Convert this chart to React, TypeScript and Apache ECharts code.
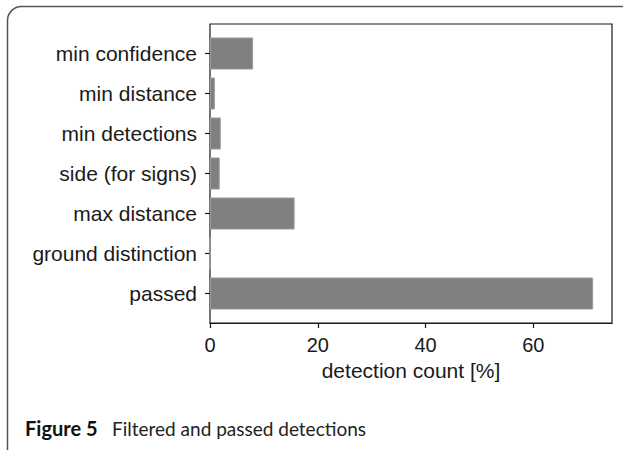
import React, { useEffect, useRef } from "react";
import * as echarts from "echarts";

const categories = [
  "min confidence",
  "min distance",
  "min detections",
  "side (for signs)",
  "max distance",
  "ground distinction",
  "passed",
];
const values = [8.0, 0.9, 2.0, 1.8, 15.7, 0.0, 71.1];
const xTicks = [0, 20, 40, 60];
const xMax = 74.6;
const xAxisTitle = "detection count [%]";
const captionBold = "Figure 5";
const captionText = "Filtered and passed detections";

export default function App() {
  const ref = useRef<HTMLDivElement>(null);
  useEffect(() => {
    document.body.style.margin = "0";
    const chart = echarts.init(ref.current!, null, { renderer: "svg" });
    const font = "Liberation Sans";
    chart.setOption({
      animation: false,
      backgroundColor: "#ffffff",
      grid: [
        {
          left: 210,
          right: 11,
          top: 24,
          bottom: 127,
          show: true,
          borderColor: "#1a1a1a",
          borderWidth: 1.2,
          backgroundColor: "transparent",
        },
        { left: 210, right: 11, top: 33.5, bottom: 136.5 },
      ],
      xAxis: [
        {
          gridIndex: 0,
          type: "value",
          min: 0,
          max: xMax,
          interval: 20,
          splitLine: { show: false },
          axisLine: { show: true, lineStyle: { color: "#1a1a1a", width: 1.2 } },
          axisTick: {
            show: true,
            length: 5,
            customValues: xTicks,
            lineStyle: { color: "#1a1a1a", width: 1.2 },
          },
          axisLabel: {
            customValues: xTicks,
            color: "#1a1a1a",
            fontFamily: font,
            fontSize: 20,
            margin: 12,
          },
          name: xAxisTitle,
          nameLocation: "middle",
          nameGap: 37,
          nameTextStyle: { color: "#1a1a1a", fontFamily: font, fontSize: 21 },
        },
        {
          gridIndex: 1,
          type: "value",
          min: 0,
          max: xMax,
          show: false,
          splitLine: { show: false },
        },
      ],
      yAxis: [
        {
          gridIndex: 0,
          type: "value",
          show: false,
          splitLine: { show: false },
        },
        {
          gridIndex: 1,
          type: "category",
          data: categories,
          inverse: true,
          axisLine: { show: false },
          axisTick: {
            show: true,
            alignWithLabel: true,
            length: 5,
            lineStyle: { color: "#1a1a1a", width: 1.2 },
          },
          axisLabel: {
            color: "#1a1a1a",
            fontFamily: font,
            fontSize: 21,
            margin: 13,
          },
          splitLine: { show: false },
        },
      ],
      series: [
        {
          type: "bar",
          xAxisIndex: 1,
          yAxisIndex: 1,
          data: values,
          barCategoryGap: "20%",
          itemStyle: { color: "#808080", borderColor: "#9a9a9a", borderWidth: 1 },
        },
      ],
      graphic: [
        {
          type: "rect",
          shape: { x: 7.5, y: 6.5, width: 640, height: 470, r: 14 },
          style: { fill: "none", stroke: "#555", lineWidth: 1.5 },
          silent: true,
        },
        {
          type: "text",
          x: 25,
          y: 428,
          style: {
            text: captionBold,
            fontFamily: "Lato",
            fontWeight: "bold",
            fontSize: 20,
            fill: "#111",
            verticalAlign: "middle",
          },
        },
        {
          type: "text",
          x: 112,
          y: 428,
          style: {
            text: captionText,
            fontFamily: "Lato",
            fontSize: 19,
            fill: "#222",
            verticalAlign: "middle",
          },
        },
      ],
    });
    return () => chart.dispose();
  }, []);
  return (
    <div
      ref={ref}
      style={{ position: "absolute", left: 0, top: 0, width: 623, height: 450 }}
    />
  );
}
